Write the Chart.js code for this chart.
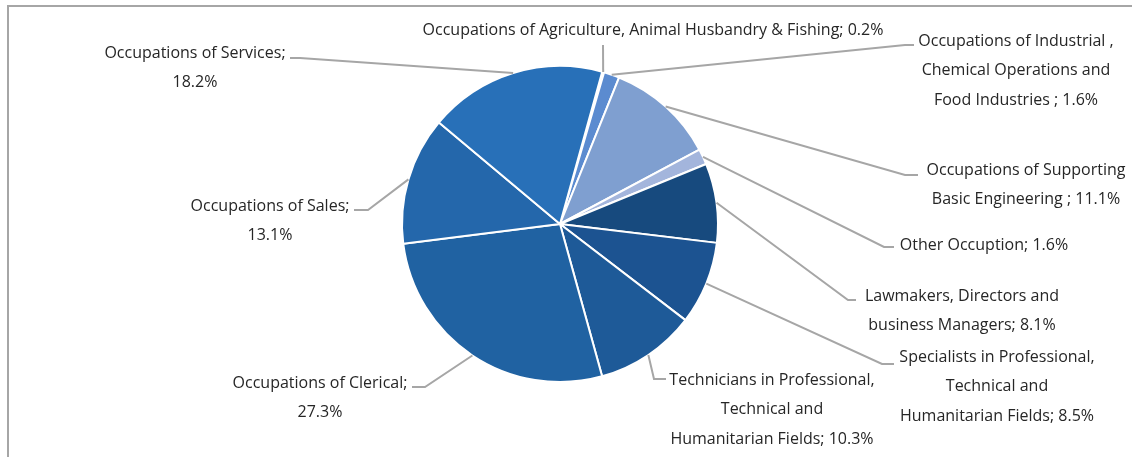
<!DOCTYPE html>
<html lang="en">
<head>
    <meta charset="UTF-8">
    <title>Occupations share - pie</title>
    <script src="https://cdn.jsdelivr.net/npm/chart.js"></script>
    <style>
        body {
            margin: 0;
            padding: 0;
            background: #fff;
            overflow: hidden;
        }
        #wrap {
            position: relative;
            width: 1132px;
            height: 457px;
        }
        #frame {
            position: absolute;
            left: 7px;
            top: 5px;
            width: 1200px;
            height: 600px;
            border: 2px solid #a6a6a6;
        }
        canvas {
            position: absolute;
            left: 0;
            top: 0;
        }
    </style>
</head>
<body>
    <div id="wrap">
        <div id="frame"></div>
        <canvas id="pieChart" width="1132" height="457"></canvas>
    </div>

    <script>
        // Kategori & nilai (urutan searah jarum jam)
        const categories = [
            'Occupations of Agriculture, Animal Husbandry & Fishing',
            'Occupations of Industrial , Chemical Operations and Food Industries',
            'Occupations of Supporting Basic Engineering',
            'Other Occuption',
            'Lawmakers, Directors and business Managers',
            'Specialists in Professional, Technical and Humanitarian Fields',
            'Technicians in Professional, Technical and Humanitarian Fields',
            'Occupations of Clerical',
            'Occupations of Sales',
            'Occupations of Services'
        ];
        const shares = [0.2, 1.6, 11.1, 1.6, 8.1, 8.5, 10.3, 27.3, 13.1, 18.2];

        // teks label per baris, persentase ditambahkan di baris terakhir
        const labelLines = [
            ['Occupations of Agriculture, Animal Husbandry & Fishing; '],
            ['Occupations of Industrial ,', 'Chemical Operations and', 'Food Industries ; '],
            ['Occupations of Supporting', 'Basic Engineering ; '],
            ['Other Occuption; '],
            ['Lawmakers, Directors and', 'business Managers; '],
            ['Specialists in Professional,', 'Technical and', 'Humanitarian Fields; '],
            ['Technicians in Professional,', 'Technical and', 'Humanitarian Fields; '],
            ['Occupations of Clerical;', ''],
            ['Occupations of Sales;', ''],
            ['Occupations of Services;', '']
        ];

        const sliceColors = [
            '#3f7cc4', '#5b8bd0', '#7f9fd0', '#a3b5dc', '#174a7e',
            '#1c5391', '#1e5a98', '#2062a2', '#2467ab', '#2870b8'
        ];

        // posisi label: pusat teks (cx, y baris pertama), titik siku & ujung garis
        const labelLayout = [
            { cx: 653, y: 30, elbow: [603, 45], end: [603, 45] },
            { cx: 1016, y: 41, elbow: [905, 45], end: [914, 45] },
            { cx: 1026, y: 170, elbow: [905, 175], end: [918, 175] },
            { cx: 984, y: 245, elbow: [884, 247], end: [894, 247] },
            { cx: 962, y: 296, elbow: [848, 300], end: [856, 300] },
            { cx: 997, y: 357, elbow: [882, 364], end: [894, 364] },
            { cx: 772, y: 380, elbow: [654, 379], end: [666, 379] },
            { cx: 320, y: 383, elbow: [425, 387], end: [412, 387] },
            { cx: 270, y: 206, elbow: [368, 210], end: [354, 210] },
            { cx: 195, y: 53, elbow: [300, 58], end: [290, 58] }
        ];
        const lineGap = 29.5;

        const leaderLabels = {
            id: 'leaderLabels',
            afterDraw(chart) {
                const ctx = chart.ctx;
                const arcs = chart.getDatasetMeta(0).data;
                ctx.save();
                ctx.strokeStyle = '#a6a6a6';
                ctx.lineWidth = 2;
                arcs.forEach((arc, i) => {
                    const p = arc.getProps(['x', 'y', 'startAngle', 'endAngle', 'outerRadius'], true);
                    const mid = (p.startAngle + p.endAngle) / 2;
                    const sx = p.x + Math.cos(mid) * p.outerRadius;
                    const sy = p.y + Math.sin(mid) * p.outerRadius;
                    const lay = labelLayout[i];
                    ctx.beginPath();
                    ctx.moveTo(sx, sy);
                    ctx.lineTo(lay.elbow[0], lay.elbow[1]);
                    ctx.lineTo(lay.end[0], lay.end[1]);
                    ctx.stroke();
                });
                ctx.fillStyle = '#262626';
                ctx.font = '16px "Open Sans"';
                ctx.textAlign = 'center';
                ctx.textBaseline = 'middle';
                labelLines.forEach((lines, i) => {
                    const lay = labelLayout[i];
                    lines.forEach((txt, k) => {
                        let t = txt;
                        if (k === lines.length - 1) t = txt + shares[i].toFixed(1) + '%';
                        ctx.fillText(t.trim(), lay.cx, lay.y + k * lineGap);
                    });
                });
                ctx.restore();
            }
        };

        const ctx = document.getElementById('pieChart').getContext('2d');
        const pieChart = new Chart(ctx, {
            type: 'pie',
            data: {
                labels: categories,
                datasets: [{
                    data: shares,
                    backgroundColor: sliceColors,
                    borderColor: '#ffffff',
                    borderWidth: 2
                }]
            },
            options: {
                responsive: false,
                animation: false,
                rotation: 15.5,
                radius: 158,
                layout: {
                    padding: { left: 0, right: 12, top: 66, bottom: 75 }
                },
                plugins: {
                    legend: { display: false },
                    tooltip: { enabled: false }
                }
            },
            plugins: [leaderLabels]
        });
    </script>
</body>
</html>
